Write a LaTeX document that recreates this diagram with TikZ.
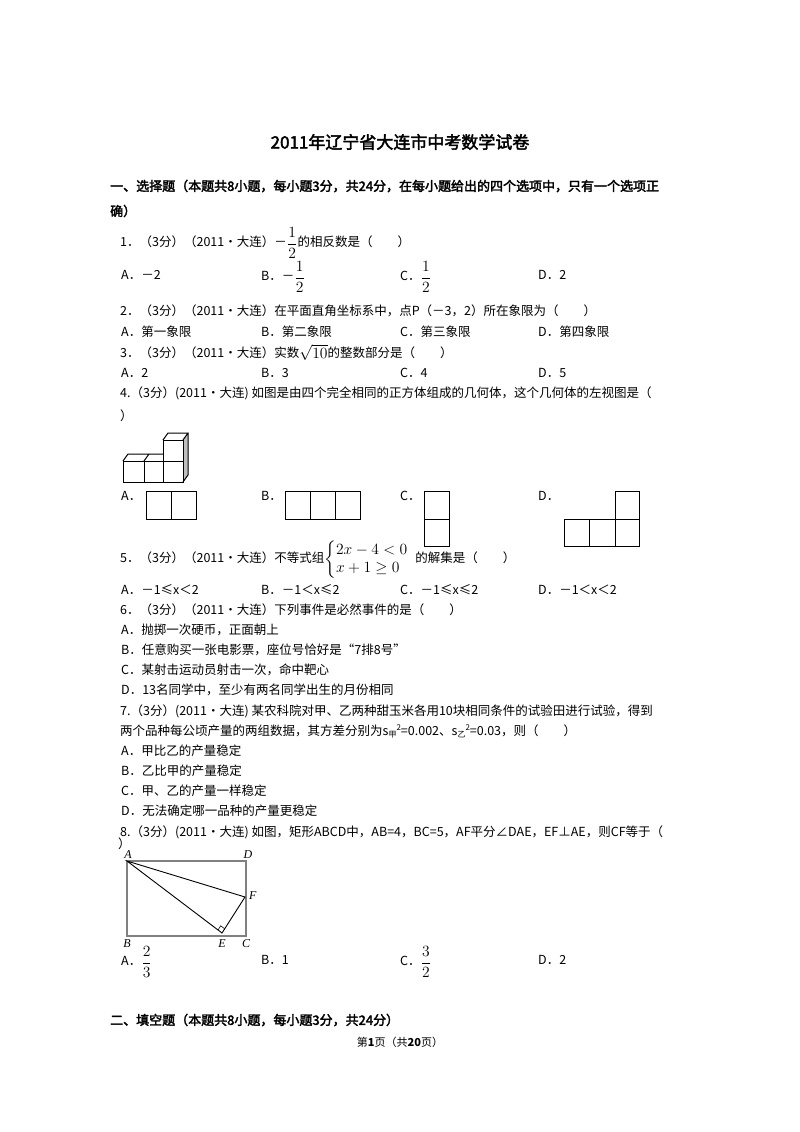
\documentclass[tikz,border=0pt]{standalone}
\usepackage{amsmath}
\usepackage{graphicx}
\usepackage{fontspec}
\setmainfont{Noto Sans CJK SC}
\newfontfamily\bcjk[FakeBold=2.5]{Noto Sans CJK SC}
\newfontfamily\lserif{Liberation Serif}
\usetikzlibrary{calc}
\newcommand{\bigmath}[1]{\raisebox{-0.15ex}{\scalebox{1.3}{$#1$}}}
\begin{document}
\begin{tikzpicture}[x=1pt,y=-1pt,
  t/.style={anchor=west,inner sep=0pt,font=\fontsize{12.5}{14}\selectfont},
  h/.style={anchor=west,inner sep=0pt,font=\fontsize{13}{15}\bcjk},
  fig/.style={draw=black,line width=1pt},
  gfig/.style={draw=gray,line width=1.2pt},
  lab/.style={inner sep=1pt,font=\fontsize{12}{13}\lserif\itshape}]
\fill[white] (0,0) rectangle (800,1132);
\useasboundingbox (0,0) rectangle (800,1132);
\node[inner sep=0pt,font=\fontsize{17}{20}\bcjk] (title) at (400,142) {2011年辽宁省大连市中考数学试卷};
\node[h] (s1a) at (110,186) {一、选择题（本题共8小题，每小题3分，共24分，在每小题给出的四个选项中，只有一个选项正};
\node[h] (s1b) at (110,211) {确）};
% Q1
\node[t] (q1) at (120,243) {1．（3分）（2011•大连）－\bigmath{\dfrac{1}{2}}的相反数是（　　）};
\node[t] (q1a) at (121,275) {A．－2};
\node[t] (q1b) at (261,277) {B．－\bigmath{\dfrac{1}{2}}};
\node[t] (q1c) at (400,277) {C．\bigmath{\dfrac{1}{2}}};
\node[t] (q1d) at (538,275) {D．2};
% Q2
\node[t] (q2) at (120,311) {2．（3分）（2011•大连）在平面直角坐标系中，点P（－3，2）所在象限为（　　）};
\node[t] (q2a) at (121,332) {A．第一象限};
\node[t] (q2b) at (261,332) {B．第二象限};
\node[t] (q2c) at (400,332) {C．第三象限};
\node[t] (q2d) at (538,332) {D．第四象限};
% Q3
\node[t] (q3) at (120,352) {3．（3分）（2011•大连）实数\bigmath{\sqrt{10}}的整数部分是（　　）};
\node[t] (q3a) at (121,373) {A．2};
\node[t] (q3b) at (261,373) {B．3};
\node[t] (q3c) at (400,373) {C．4};
\node[t] (q3d) at (538,373) {D．5};
% Q4
\node[t] (q4) at (120,393) {4.（3分）(2011•大连) 如图是由四个完全相同的正方体组成的几何体，这个几何体的左视图是（};
\node[t] (q4e) at (120,416) {）};
% cube figure
\fill[gray!50] (183,440)--(188,433)--(188,475)--(183,482)--cycle;
\draw[fig] (123,461) rectangle (183,482);
\draw[fig] (144,461)--(144,482) (163,461)--(163,482);
\draw[fig] (163,440) rectangle (183,461);
\draw[fig] (123,461)--(128,454)--(163,454) (144,461)--(149,454);
\draw[fig] (163,440)--(168,433)--(188,433)--(183,440) (188,433)--(188,475)--(183,482);
% Q4 options
\node[t] (q4a) at (121,496) {A．};
\draw[fig] (146,491) rectangle (196,519) (171,491)--(171,519);
\node[t] (q4b) at (261,496) {B．};
\draw[fig] (285,491) rectangle (360,519) (310,491)--(310,519) (335,491)--(335,519);
\node[t] (q4c) at (400,496) {C．};
\draw[fig] (424,491) rectangle (449,546) (424,519)--(449,519);
\node[t] (q4d) at (538,496) {D．};
\draw[fig] (564,519) rectangle (639,546) (589,519)--(589,546) (615,491) rectangle (639,546) (615,519)--(639,519);
% Q5
\node[t] (q5) at (120,560) {5．（3分）（2011•大连）不等式组\bigmath{\left\{\begin{array}{@{}l}2x-4<0\\ x+1\geq 0\end{array}\right.}的解集是（　　）};
\node[t] (q5a) at (121,590) {A．－1≤x＜2};
\node[t] (q5b) at (261,590) {B．－1＜x≤2};
\node[t] (q5c) at (400,590) {C．－1≤x≤2};
\node[t] (q5d) at (538,590) {D．－1＜x＜2};
% Q6
\node[t] (q6) at (120,610) {6．（3分）（2011•大连）下列事件是必然事件的是（　　）};
\node[t] (q6a) at (121,630) {A．抛掷一次硬币，正面朝上};
\node[t] (q6b) at (121,650) {B．任意购买一张电影票，座位号恰好是“7排8号”};
\node[t] (q6c) at (121,670) {C．某射击运动员射击一次，命中靶心};
\node[t] (q6d) at (121,690) {D．13名同学中，至少有两名同学出生的月份相同};
% Q7
\node[t] (q7) at (120,711) {7.（3分）(2011•大连) 某农科院对甲、乙两种甜玉米各用10块相同条件的试验田进行试验，得到};
\node[t] (q7b) at (120,731) {两个品种每公顷产量的两组数据，其方差分别为s\raisebox{-2pt}{\fontsize{8}{9}\selectfont 甲}\raisebox{5pt}{\fontsize{8}{9}\selectfont 2}=0.002、s\raisebox{-2pt}{\fontsize{8}{9}\selectfont 乙}\raisebox{5pt}{\fontsize{8}{9}\selectfont 2}=0.03，则（　　）};
\node[t] (q7a) at (121,751) {A．甲比乙的产量稳定};
\node[t] (q7bb) at (121,771) {B．乙比甲的产量稳定};
\node[t] (q7c) at (121,791) {C．甲、乙的产量一样稳定};
\node[t] (q7d) at (121,811) {D．无法确定哪一品种的产量更稳定};
% Q8
\node[t] (q8) at (120,832) {8.（3分）(2011•大连) 如图，矩形ABCD中，AB=4，BC=5，AF平分∠DAE，EF⊥AE，则CF等于（};
\node[t] (q8e) at (118,844) {）};
\coordinate (A) at (127,861);
\coordinate (D) at (246,861);
\coordinate (C) at (246,936);
\coordinate (B) at (127,936);
\coordinate (F) at (245,897);
\coordinate (E) at (222,933);
\draw[gfig] (A) rectangle (C);
\draw[line width=0.9pt] (A)--(F)--(E)--cycle;
\draw[line width=0.6pt] ($(E)!5pt!(A)$) -- ($(E)!5pt!(A)+(E)!5pt!(F)-(E)$) -- ($(E)!5pt!(F)$);
\node[lab,anchor=south] (lA) at (128,860) {A};
\node[lab,anchor=south] (lD) at (248,860) {D};
\node[lab,anchor=west] (lF) at (248,896) {F};
\node[lab,anchor=north] (lB) at (127,938) {B};
\node[lab,anchor=north] (lE) at (222,938) {E};
\node[lab,anchor=north] (lC) at (246,938) {C};
\node[t] (q8a) at (121,962) {A．\bigmath{\dfrac{2}{3}}};
\node[t] (q8b) at (261,960) {B．1};
\node[t] (q8c) at (400,962) {C．\bigmath{\dfrac{3}{2}}};
\node[t] (q8d) at (538,960) {D．2};
\node[h] (s2) at (110,1020) {二、填空题（本题共8小题，每小题3分，共24分）};
\node[inner sep=0pt,font=\fontsize{11}{12}\selectfont] (foot) at (400,1042) {第\textbf{1}页（共\textbf{20}页）};
\end{tikzpicture}
\end{document}
